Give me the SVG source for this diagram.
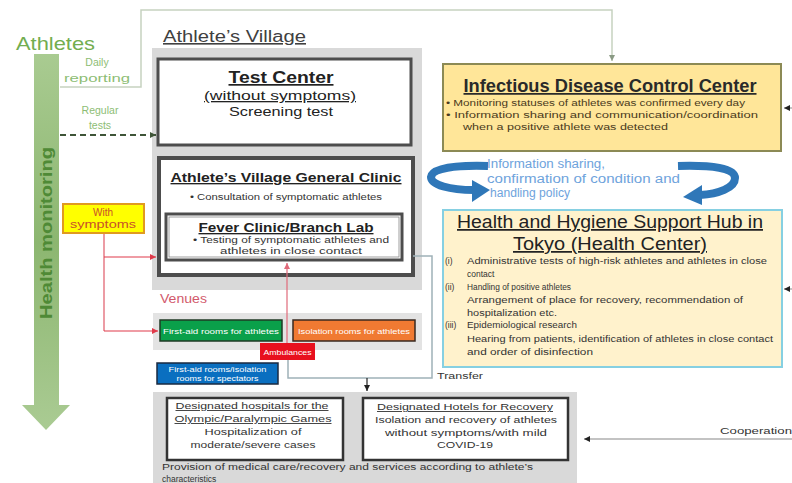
<svg xmlns="http://www.w3.org/2000/svg" width="792" height="483" viewBox="0 0 792 483">
<style>
text{font-family:"Liberation Sans",Arial,sans-serif;}
.u{text-decoration:underline;}
.b{font-weight:bold;}
.c{text-anchor:middle;}
.sm{font-size:8.5px;fill:#333;}
.fm{font-size:9px;fill:#333;}
.wt{font-size:7.5px;fill:#fff;text-anchor:middle;}
.dk{fill:#222;}
</style>
<defs>
<linearGradient id="gbar" x1="0" y1="0" x2="0" y2="1">
<stop offset="0" stop-color="#a9cb91"/>
<stop offset="0.5" stop-color="#8cb670"/>
<stop offset="1" stop-color="#aacb93"/>
</linearGradient>
<marker id="ag" markerWidth="8" markerHeight="8" refX="6" refY="4" orient="auto" markerUnits="userSpaceOnUse"><path d="M0,1 L6,4 L0,7 z" fill="#8a9a84"/></marker>
<marker id="ad" markerWidth="8" markerHeight="8" refX="6" refY="4" orient="auto" markerUnits="userSpaceOnUse"><path d="M0,1 L6,4 L0,7 z" fill="#3f5538"/></marker>
<marker id="ar" markerWidth="8" markerHeight="8" refX="6" refY="4" orient="auto" markerUnits="userSpaceOnUse"><path d="M0,1 L6,4 L0,7 z" fill="#e03a4a"/></marker>
<marker id="ap" markerWidth="8" markerHeight="8" refX="6" refY="4" orient="auto" markerUnits="userSpaceOnUse"><path d="M0,1 L6,4 L0,7 z" fill="#e06a7a"/></marker>
<marker id="ak" markerWidth="8" markerHeight="8" refX="6" refY="4" orient="auto" markerUnits="userSpaceOnUse"><path d="M0,1 L6,4 L0,7 z" fill="#222"/></marker>
</defs>
<rect width="792" height="483" fill="#fff"/>

<!-- Athletes / health monitoring arrow -->
<g id="athletes">
<text x="16" y="50" font-size="19" fill="#72ad4f" textLength="79" lengthAdjust="spacingAndGlyphs">Athletes</text>
<path d="M34,54 H59 V405 H70 L46,430 L22,405 H34 Z" fill="url(#gbar)"/>
<text transform="translate(52,233) rotate(-90)" class="b c" font-size="17" fill="#4f8a36" textLength="172" lengthAdjust="spacingAndGlyphs">Health monitoring</text>
</g>

<!-- Athlete's Village -->
<g id="village">
<text x="163" y="42" class="u" font-size="16" fill="#404040" textLength="143" lengthAdjust="spacingAndGlyphs">Athlete’s Village</text>
<rect x="152" y="48" width="270" height="242" fill="#d9d9d9"/>
</g>

<g id="test-center">
<rect x="158" y="59" width="253" height="86" fill="#fff" stroke="#4d4d4d" stroke-width="3"/>
<text x="281" y="83" class="b c u dk" font-size="17" textLength="105" lengthAdjust="spacingAndGlyphs">Test Center</text>
<text x="280" y="100" class="c u dk" font-size="13" textLength="152" lengthAdjust="spacingAndGlyphs">(without symptoms)</text>
<text x="281" y="116" class="c dk" font-size="13" textLength="104" lengthAdjust="spacingAndGlyphs">Screening test</text>
</g>

<g id="general-clinic">
<rect x="159" y="158" width="254" height="117" fill="#fff" stroke="#4d4d4d" stroke-width="4"/>
<text x="286" y="182" class="b c u dk" font-size="13.5" textLength="231" lengthAdjust="spacingAndGlyphs">Athlete’s Village General Clinic</text>
<text x="286" y="200" class="c sm" textLength="192" lengthAdjust="spacingAndGlyphs">• Consultation of symptomatic athletes</text>
</g>

<g id="fever-clinic">
<rect x="166" y="214" width="236" height="46" fill="#fff" stroke="#4d4d4d" stroke-width="3"/>
<rect x="169" y="217" width="230" height="40" fill="none" stroke="#888" stroke-width="0.8"/>
<text x="286" y="232" class="b c u dk" font-size="13.5" textLength="175" lengthAdjust="spacingAndGlyphs">Fever Clinic/Branch Lab</text>
<text x="291" y="243" class="c sm" textLength="196" lengthAdjust="spacingAndGlyphs">• Testing of symptomatic athletes and</text>
<text x="291" y="254" class="c sm" textLength="142" lengthAdjust="spacingAndGlyphs">athletes in close contact</text>
</g>

<g id="with-symptoms">
<rect x="63" y="204" width="81" height="29" fill="#ffff00" stroke="#e09a20" stroke-width="2"/>
<text x="103" y="216" class="c" font-size="10" fill="#c8502a">With</text>
<text x="103" y="228" class="c" font-size="10" fill="#c8502a" textLength="66" lengthAdjust="spacingAndGlyphs">symptoms</text>
</g>

<!-- Venues -->
<g id="venues">
<text x="160" y="303" font-size="12" fill="#d25a6c" textLength="47" lengthAdjust="spacingAndGlyphs">Venues</text>
<rect x="153" y="313" width="269" height="37" fill="#e3e3e3"/>
</g>
<g id="first-aid-athletes">
<rect x="160" y="320" width="122" height="21" fill="#0aa04a" stroke="#1f3a25" stroke-width="1.5"/>
<text x="221" y="333.5" class="wt" textLength="116" lengthAdjust="spacingAndGlyphs">First-aid rooms for athletes</text>
</g>
<g id="isolation-athletes">
<rect x="293" y="320" width="122" height="21" fill="#f07a32" stroke="#3a2a20" stroke-width="1.5"/>
<text x="354" y="333.5" class="wt" textLength="112" lengthAdjust="spacingAndGlyphs">Isolation rooms for athletes</text>
</g>
<g id="ambulances">
<rect x="260" y="343" width="55" height="17" fill="#e8101e"/>
<text x="287.5" y="354.5" class="wt" textLength="48" lengthAdjust="spacingAndGlyphs">Ambulances</text>
</g>
<g id="first-aid-spectators">
<rect x="157" y="363" width="121" height="21" fill="#0a6fc0" stroke="#1a2a40" stroke-width="1.5"/>
<text x="217.5" y="372" class="wt" textLength="98" lengthAdjust="spacingAndGlyphs">First-aid rooms/isolation</text>
<text x="217.5" y="381" class="wt" textLength="82" lengthAdjust="spacingAndGlyphs">rooms for spectators</text>
</g>

<!-- Infectious Disease Control Center -->
<g id="idcc">
<rect x="443" y="64" width="338" height="87" fill="#ffe699" stroke="#8c8a55" stroke-width="2"/>
<text x="610" y="92" class="b c u" font-size="17.5" fill="#2a2a2a" textLength="293" lengthAdjust="spacingAndGlyphs">Infectious Disease Control Center</text>
<text x="446" y="106" font-size="8.5" fill="#4a3a20" textLength="299" lengthAdjust="spacingAndGlyphs">• Monitoring statuses of athletes was confirmed every day</text>
<text x="446" y="118" font-size="8.5" fill="#4a3a20" textLength="312" lengthAdjust="spacingAndGlyphs">• Information sharing and communication/coordination</text>
<text x="463" y="130" font-size="8.5" fill="#4a3a20" textLength="205" lengthAdjust="spacingAndGlyphs">when a positive athlete was detected</text>
</g>

<!-- Info sharing circular arrows -->
<g id="info-sharing">
<path d="M488,166 C455,165 432,168 431,177 C431,185 450,190 474,190" fill="none" stroke="#2f77b8" stroke-width="8"/>
<polygon points="472,180 490,190 472,202" fill="#2f77b8"/>
<path d="M678,166 C712,165 735,168 735,178 C735,188 718,194 700,195" fill="none" stroke="#2f77b8" stroke-width="8"/>
<polygon points="702,185 683,197 702,205" fill="#2f77b8"/>
<text x="487" y="168" font-size="12.5" fill="#6ea3dc" textLength="118" lengthAdjust="spacingAndGlyphs">Information sharing,</text>
<text x="487" y="183" font-size="12.5" fill="#6ea3dc" textLength="193" lengthAdjust="spacingAndGlyphs">confirmation of condition and</text>
<text x="490" y="197" font-size="12.5" fill="#6ea3dc" textLength="80" lengthAdjust="spacingAndGlyphs">handling policy</text>
</g>

<!-- Health and Hygiene Support Hub -->
<g id="hub">
<rect x="443" y="210" width="339" height="157" fill="#fff2cc" stroke="#86d0e2" stroke-width="2"/>
<text x="610" y="228" class="c u" font-size="17.5" fill="#222" textLength="306" lengthAdjust="spacingAndGlyphs">Health and Hygiene Support Hub in</text>
<text x="610" y="250" class="c u" font-size="17.5" fill="#222" textLength="194" lengthAdjust="spacingAndGlyphs">Tokyo (Health Center)</text>
<text x="445" y="264" class="sm">(i)</text>
<text x="467" y="264" class="sm" textLength="300" lengthAdjust="spacingAndGlyphs">Administrative tests of high-risk athletes and athletes in close</text>
<text x="467" y="277" class="sm">contact</text>
<text x="445" y="290" class="sm">(ii)</text>
<text x="467" y="290" class="sm" textLength="104" lengthAdjust="spacingAndGlyphs">Handling of positive athletes</text>
<text x="467" y="303" class="sm" textLength="276" lengthAdjust="spacingAndGlyphs">Arrangement of place for recovery, recommendation of</text>
<text x="467" y="316" class="sm" textLength="90" lengthAdjust="spacingAndGlyphs">hospitalization etc.</text>
<text x="445" y="328" class="sm">(iii)</text>
<text x="467" y="328" class="sm" textLength="110" lengthAdjust="spacingAndGlyphs">Epidemiological research</text>
<text x="467" y="342" class="sm" textLength="306" lengthAdjust="spacingAndGlyphs">Hearing from patients, identification of athletes in close contact</text>
<text x="467" y="355" class="sm" textLength="126" lengthAdjust="spacingAndGlyphs">and order of disinfection</text>
</g>

<!-- Bottom facilities -->
<g id="facilities">
<rect x="153" y="392" width="424" height="91" fill="#d9d9d9"/>
<text x="162" y="470" class="sm" textLength="371" lengthAdjust="spacingAndGlyphs">Provision of medical care/recovery and services according to athlete’s</text>
<text x="162" y="482" class="sm">characteristics</text>
</g>
<g id="hospitals">
<rect x="167" y="398" width="176" height="62" fill="#fff" stroke="#333" stroke-width="2.5"/>
<text x="252" y="409" class="c u fm" textLength="153" lengthAdjust="spacingAndGlyphs">Designated hospitals for the</text>
<text x="253" y="422" class="c u fm" textLength="157" lengthAdjust="spacingAndGlyphs">Olympic/Paralympic Games</text>
<text x="253" y="435" class="c fm" textLength="97" lengthAdjust="spacingAndGlyphs">Hospitalization of</text>
<text x="253" y="448" class="c fm" textLength="125" lengthAdjust="spacingAndGlyphs">moderate/severe cases</text>
</g>
<g id="hotels">
<rect x="363" y="398" width="205" height="62" fill="#fff" stroke="#333" stroke-width="2.5"/>
<text x="465" y="410" class="c u fm" textLength="176" lengthAdjust="spacingAndGlyphs">Designated Hotels for Recovery</text>
<text x="466" y="423" class="c fm" textLength="182" lengthAdjust="spacingAndGlyphs">Isolation and recovery of athletes</text>
<text x="466" y="436" class="c fm" textLength="162" lengthAdjust="spacingAndGlyphs">without symptoms/with mild</text>
<text x="465" y="448" class="c fm" textLength="56" lengthAdjust="spacingAndGlyphs">COVID-19</text>
</g>

<!-- Connectors -->
<g id="connectors" fill="none">
<path d="M60,87 H141 V10 H612 V61" stroke="#c6d2c0" stroke-width="1.5" marker-end="url(#ag)"/>
<path d="M60,135 H156" stroke="#3f5538" stroke-width="2" stroke-dasharray="6,4" marker-end="url(#ad)"/>
<path d="M104,234 V331" stroke="#e05a68" stroke-width="1.2"/>
<path d="M104,257 H156" stroke="#e03a4a" stroke-width="1.2" marker-end="url(#ar)"/>
<path d="M104,331 H158" stroke="#e03a4a" stroke-width="1.2" marker-end="url(#ar)"/>
<path d="M287,343 V263" stroke="#e06a7a" stroke-width="1.2" marker-end="url(#ap)"/>
<path d="M413,256 H432 V378 H288 V360" stroke="#9fb1b8" stroke-width="1.5"/>
<path d="M367,378 V391" stroke="#222" stroke-width="1.2" marker-end="url(#ak)"/>
<path d="M792,439 H584" stroke="#888" stroke-width="1.2" marker-end="url(#ak)"/>
<path d="M792,108 H784" stroke="#888" stroke-width="1" marker-end="url(#ak)"/>
<path d="M792,289 H784" stroke="#888" stroke-width="1" marker-end="url(#ak)"/>
</g>
<g id="labels">
<text x="97" y="66" class="c" font-size="10.5" fill="#8dbd74">Daily</text>
<text x="97" y="82" class="c" font-size="10.5" fill="#8dbd74" textLength="66" lengthAdjust="spacingAndGlyphs">reporting</text>
<text x="100" y="114" class="c" font-size="10.5" fill="#8dbd74">Regular</text>
<text x="100" y="129" class="c" font-size="10.5" fill="#8dbd74">tests</text>
<text x="437" y="379" font-size="8.5" fill="#333" textLength="46" lengthAdjust="spacingAndGlyphs">Transfer</text>
<text x="720" y="434" font-size="9" fill="#333" textLength="72" lengthAdjust="spacingAndGlyphs">Cooperation</text>
</g>
</svg>
